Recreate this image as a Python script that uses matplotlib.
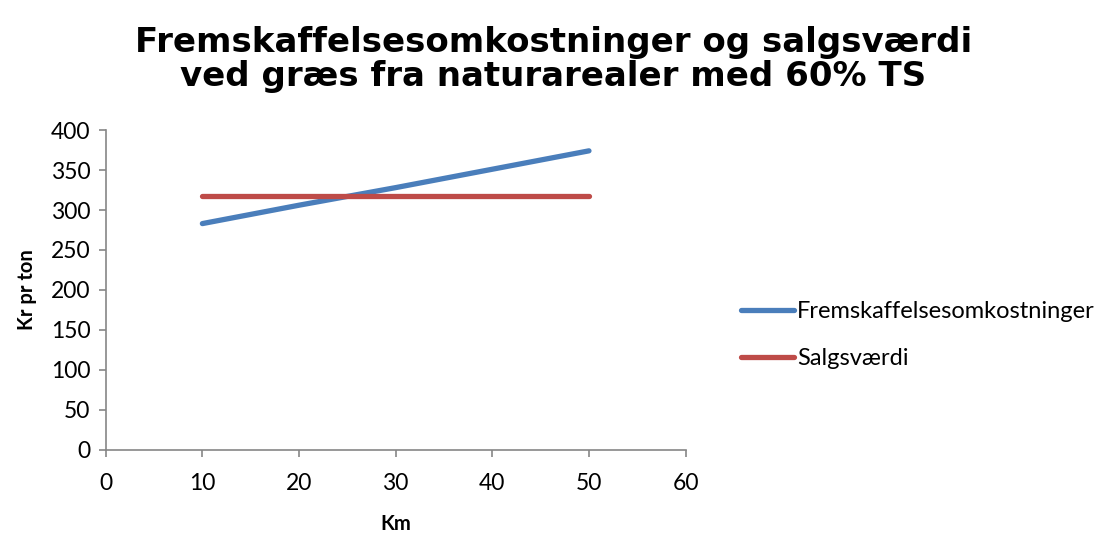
import matplotlib
matplotlib.use("Agg")
import matplotlib.pyplot as plt

# ==================================================
# DATA
# ==================================================
km = [10, 20, 30, 40, 50]
fremskaffelse = [283, 306, 328, 351, 374]
salgsvaerdi = [317, 317, 317, 317, 317]

x_ticks = [0, 10, 20, 30, 40, 50, 60]
y_ticks = [0, 50, 100, 150, 200, 250, 300, 350, 400]

title = "Fremskaffelsesomkostninger og salgsværdi\nved græs fra naturarealer med 60% TS"

# ==================================================
# STYLE
# ==================================================
plt.rcParams['font.family'] = ['Lato', 'DejaVu Sans']
axis_grey = "#868686"

fig = plt.figure(figsize=(11.13, 5.33), dpi=100)
ax = fig.add_axes([0.095, 0.156, 0.521, 0.600])

ax.plot(km, fremskaffelse, color="#4A7EBB", lw=3.8, solid_capstyle='round',
        label="Fremskaffelsesomkostninger")
ax.plot(km, salgsvaerdi, color="#BE4B48", lw=3.8, solid_capstyle='round',
        label="Salgsværdi")

ax.set_xlim(0, 60)
ax.set_ylim(0, 400)
ax.set_xticks(x_ticks)
ax.set_yticks(y_ticks)
ax.tick_params(axis='both', labelsize=16.5, colors=axis_grey, length=5,
               direction='out', labelcolor='black', width=1.2)
ax.tick_params(axis='x', pad=12)
ax.tick_params(axis='y', pad=6)

for side in ['top', 'right']:
    ax.spines[side].set_visible(False)
for side in ['left', 'bottom']:
    ax.spines[side].set_color(axis_grey)
    ax.spines[side].set_linewidth(1.2)

ax.set_xlabel("Km", fontsize=14.5, fontweight='bold', labelpad=14)
ax.set_ylabel("Kr pr ton", fontsize=14.5, fontweight='bold', labelpad=10)

fig.text(0.497, 0.888, title, ha='center', va='center', fontsize=24.5,
         fontweight='bold', family='DejaVu Sans', linespacing=1.05)

fig.legend(loc='center left', bbox_to_anchor=(0.647, 0.371), frameon=False,
           fontsize=17, handlelength=2.25, handletextpad=0.1,
           labelspacing=1.1)

fig.savefig("out.png", dpi=100)
